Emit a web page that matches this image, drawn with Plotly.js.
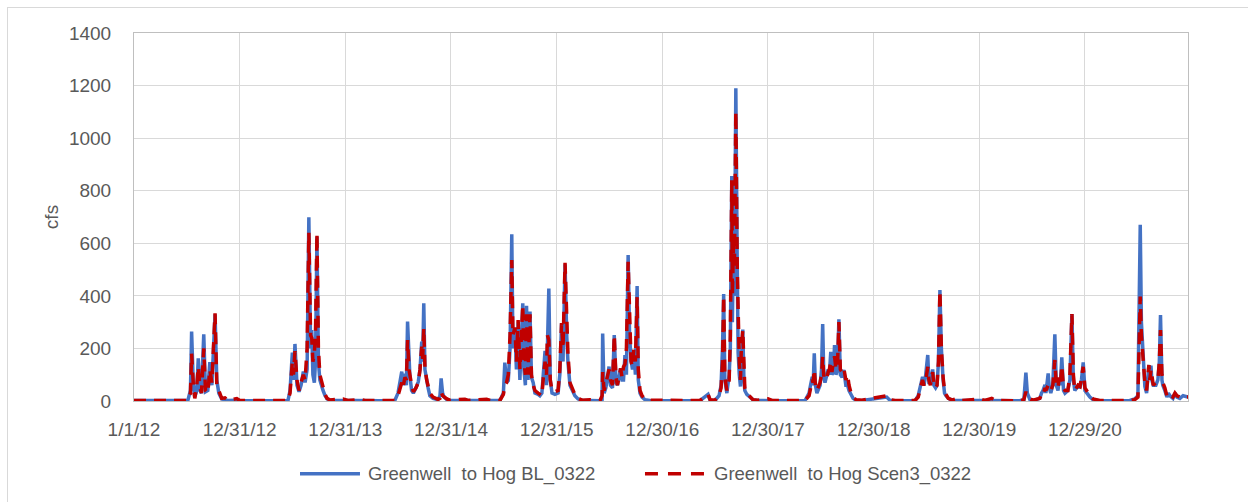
<!DOCTYPE html>
<html>
<head>
<meta charset="utf-8">
<script src="https://cdn.plot.ly/plotly-3.0.1.min.js"></script>
<style>
  html, body { margin: 0; padding: 0; background: #fff; overflow: hidden; }
  #wrap { position: relative; width: 1248px; height: 502px; }
  #chart { position: absolute; left: 0; top: 0; width: 1248px; height: 502px; }
  #frame { position: absolute; left: 7px; top: 7px; width: 1300px; height: 600px;
           border: 1px solid #d9d9d9; pointer-events: none; }
</style>
</head>
<body>
<div id="wrap"><div id="chart"></div><div id="frame"></div></div>
<script>
// ---- data ----
const dates = [
  "2012-01-01","2012-04-15","2012-07-05","2012-07-14","2012-07-18","2012-07-24","2012-07-29","2012-08-05","2012-08-10","2012-08-16","2012-08-21","2012-08-29","2012-09-04","2012-09-12","2012-09-19","2012-09-26","2012-10-07","2012-10-13","2012-10-20","2012-10-30","2012-11-10","2012-11-20","2012-12-21","2013-01-01","2013-03-11",
  "2013-06-16","2013-06-23","2013-07-01","2013-07-05","2013-07-10","2013-07-17","2013-07-24","2013-07-31","2013-08-08","2013-08-14","2013-08-21","2013-08-27","2013-09-02","2013-09-06","2013-09-10","2013-09-15","2013-09-19","2013-09-24","2013-09-29","2013-10-04","2013-10-10","2013-10-15","2013-10-22","2013-10-29","2013-11-08","2013-12-23","2014-01-09","2014-02-20","2014-03-09","2014-04-30",
  "2014-06-20","2014-07-01","2014-07-14","2014-07-18","2014-07-25","2014-07-30","2014-08-03","2014-08-08","2014-08-11","2014-08-17","2014-08-23","2014-09-01","2014-09-09","2014-09-15","2014-09-21","2014-09-24","2014-09-28","2014-10-02","2014-10-08","2014-10-13","2014-10-19","2014-10-30","2014-11-16","2014-11-23","2014-11-27","2014-12-02","2014-12-07","2014-12-17","2014-12-27","2015-02-17","2015-02-28","2015-05-03","2015-05-15",
  "2015-06-18","2015-06-30","2015-07-05","2015-07-11","2015-07-17","2015-07-23","2015-07-29","2015-08-02","2015-08-09","2015-08-14","2015-08-20","2015-08-26","2015-08-31","2015-09-05","2015-09-09","2015-09-14","2015-09-18","2015-09-23","2015-09-30","2015-10-05","2015-10-11","2015-10-17","2015-10-28","2015-11-03","2015-11-10","2015-11-15","2015-11-21","2015-11-26","2015-11-29","2015-12-04","2015-12-09","2015-12-15","2015-12-25","2016-01-05","2016-01-11","2016-01-17","2016-01-22","2016-01-29","2016-02-04","2016-02-08","2016-02-15","2016-02-22","2016-03-03","2016-03-14","2016-03-28","2016-04-24","2016-05-11",
  "2016-05-29","2016-06-05","2016-06-07","2016-06-12","2016-06-18","2016-06-24","2016-06-29","2016-07-04","2016-07-11","2016-07-17","2016-07-23","2016-07-28","2016-08-02","2016-08-08","2016-08-13","2016-08-18","2016-08-23","2016-08-28","2016-09-03","2016-09-08","2016-09-13","2016-09-18","2016-09-23","2016-09-28","2016-10-04","2016-10-08","2016-10-14","2016-10-21","2016-10-31","2016-11-17","2017-01-25",
  "2017-05-09","2017-06-06","2017-06-13","2017-06-30","2017-07-14","2017-07-21","2017-07-26","2017-07-30","2017-08-03","2017-08-10","2017-08-18","2017-08-22","2017-08-27","2017-08-29","2017-09-02","2017-09-05","2017-09-10","2017-09-15","2017-09-18","2017-09-22","2017-09-26","2017-09-29","2017-10-04","2017-10-08","2017-10-11","2017-10-18","2017-10-29","2017-11-08","2017-11-25","2017-12-30","2018-01-13","2018-02-09",
  "2018-05-07","2018-05-21","2018-05-26","2018-06-01","2018-06-04","2018-06-08","2018-06-12","2018-06-17","2018-06-28","2018-07-03","2018-07-07","2018-07-11","2018-07-15","2018-07-22","2018-07-26","2018-07-30","2018-08-04","2018-08-08","2018-08-13","2018-08-17","2018-08-22","2018-08-27","2018-09-01","2018-09-06","2018-09-12","2018-09-18","2018-09-25","2018-10-01","2018-10-06","2018-10-13","2018-10-20","2018-10-30","2018-11-20","2019-02-13","2019-02-24","2019-03-14",
  "2019-05-22","2019-06-02","2019-06-10","2019-06-17","2019-06-22","2019-06-27","2019-07-05","2019-07-09","2019-07-14","2019-07-22","2019-07-26","2019-08-01","2019-08-06","2019-08-11","2019-08-16","2019-08-21","2019-08-27","2019-09-01","2019-09-06","2019-09-14","2019-09-27","2019-10-17","2019-10-31","2020-01-01","2020-01-18","2020-02-11","2020-02-25",
  "2020-05-18","2020-06-01","2020-06-08","2020-06-13","2020-06-22","2020-07-02","2020-07-26","2020-08-01","2020-08-06","2020-08-13","2020-08-16","2020-08-24","2020-08-28","2020-09-02","2020-09-09","2020-09-16","2020-09-21","2020-09-27","2020-10-01","2020-10-05","2020-10-10","2020-10-16","2020-10-21","2020-10-31","2020-11-07","2020-11-14","2020-11-19","2020-11-24","2020-12-05","2020-12-12","2020-12-17","2020-12-23","2020-12-29","2021-01-05","2021-01-15","2021-01-26","2021-02-08","2021-02-18",
  "2021-06-02","2021-06-19","2021-06-30","2021-07-08","2021-07-12","2021-07-16","2021-07-20","2021-07-24","2021-07-30","2021-08-03","2021-08-07","2021-08-10","2021-08-14","2021-08-17","2021-08-22","2021-08-31","2021-09-07","2021-09-12","2021-09-16","2021-09-21","2021-09-24","2021-10-01","2021-10-08","2021-10-13","2021-10-19","2021-10-29","2021-11-05","2021-11-12","2021-11-22","2021-12-03","2021-12-13","2021-12-20"
];

const blCfs = [
  2,1,2,40,264,60,15,40,162,40,30,254,35,40,148,60,330,80,30,8,4,2,3,1,1,
  2,40,184,80,217,60,35,60,112,70,120,699,200,270,100,70,150,625,150,80,50,40,20,8,3,2,1,2,1,1,
  2,30,112,60,104,60,302,100,95,40,30,50,73,120,226,150,372,120,68,50,20,10,5,20,86,30,15,5,2,2,1,2,1,
  2,30,146,70,78,200,634,200,270,120,296,80,200,372,120,60,362,80,340,90,70,30,25,20,30,100,191,60,200,428,80,30,25,30,100,296,150,520,245,150,60,40,20,8,3,2,1,
  1,5,257,30,50,90,131,60,50,251,70,60,90,124,80,80,175,100,555,250,156,120,192,100,437,80,30,15,5,2,1,
  1,25,3,2,20,60,200,407,80,30,100,200,856,300,600,400,1190,500,183,100,55,150,272,80,40,25,15,5,2,3,1,1,
  2,30,60,92,60,181,60,30,60,120,293,90,70,100,120,100,187,100,110,213,100,120,311,100,90,118,60,60,40,25,10,3,2,15,3,1,
  1,20,60,92,60,90,175,70,70,120,60,50,60,150,422,200,80,30,20,10,3,3,1,2,1,3,1,
  1,5,108,30,5,1,10,30,40,61,30,105,50,30,60,254,60,40,86,60,166,40,30,40,80,331,80,40,58,50,80,147,40,30,15,5,2,1,
  2,8,20,670,300,220,100,55,30,100,137,80,135,80,60,60,80,150,327,80,60,40,15,30,20,10,30,15,10,20,15,15
];

const scen3Cfs = [
  2,2,2,30,180,60,10,60,130,50,30,200,40,30,120,70,334,60,40,10,12,3,9,2,2,
  2,30,150,100,190,80,40,70,100,80,200,640,250,240,150,180,260,638,200,100,70,50,25,10,4,8,2,6,2,2,
  2,20,70,50,90,80,232,120,90,60,35,50,70,120,207,160,278,130,80,60,30,15,6,10,35,20,15,8,3,7,2,7,2,
  2,25,60,70,100,250,536,250,280,150,308,120,250,365,150,100,330,100,330,100,60,40,30,25,20,90,150,100,250,232,80,40,35,40,120,296,200,526,280,180,70,50,25,10,3,5,2,
  2,20,110,40,70,90,120,80,60,251,90,60,90,124,90,130,140,200,530,300,150,130,200,150,395,120,40,20,8,3,2,
  2,25,5,3,20,50,150,400,90,40,80,250,840,400,600,500,1102,500,250,150,80,200,270,100,50,30,15,5,3,8,2,2,
  2,20,50,80,70,120,60,40,70,100,168,90,80,90,110,120,150,110,150,170,120,130,300,120,110,125,80,100,60,30,15,5,3,20,5,2,
  2,15,50,80,60,70,130,80,60,110,60,50,60,150,420,200,90,40,25,10,4,10,2,8,2,10,2,
  1,5,35,20,8,3,10,25,20,50,40,60,50,40,60,156,60,50,90,60,135,50,40,40,100,331,100,40,60,55,90,130,50,35,20,8,3,2,
  2,5,15,397,250,200,120,70,40,80,137,80,120,100,60,70,80,150,270,100,70,50,20,30,25,15,30,20,15,20,15,15
];

const seriesNames = ["Greenwell\u00a0 to Hog BL_0322", "Greenwell\u00a0 to Hog Scen3_0322"];
const tickDates = ["2012-01-01","2012-12-31","2013-12-31","2014-12-31","2015-12-31","2016-12-30","2017-12-30","2018-12-30","2019-12-30","2020-12-29"];
const tickLabels = ["1/1/12","12/31/12","12/31/13","12/31/14","12/31/15","12/30/16","12/30/17","12/30/18","12/30/19","12/29/20"];
const xRange = ["2012-01-01","2021-12-20"];
const yRange = [0, 1400];
const yStep = 200;
const yTitle = "cfs";

// ---- style ----
const BLUE = "#4472c4", RED = "#c00000", TXT = "#595959", GRID = "#d9d9d9";
const FONT = "Liberation Sans, Arial, sans-serif";

const traces = [
  { type: "scatter", mode: "lines", x: dates, y: blCfs, name: seriesNames[0],
    line: { color: BLUE, width: 3.5 }, showlegend: false },
  { type: "scatter", mode: "lines", x: dates, y: scen3Cfs, name: seriesNames[1],
    line: { color: RED, width: 3.5, dash: "12px,8px" }, showlegend: false }
];

// legend drawn in paper coordinates below the plot
const legY = -0.198;
const layout = {
  width: 1248, height: 502,
  margin: { l: 134, r: 60, t: 33, b: 101 },
  paper_bgcolor: "#ffffff", plot_bgcolor: "#ffffff",
  font: { family: FONT, size: 19, color: TXT },
  xaxis: {
    type: "date", range: xRange,
    tickmode: "array", tickvals: tickDates, ticktext: tickLabels,
    showgrid: true, gridcolor: GRID, gridwidth: 1,
    showline: true, mirror: true, linecolor: "#bfbfbf", linewidth: 1,
    ticks: "", zeroline: false, ticklabelstandoff: 11,
    tickfont: { family: FONT, size: 19, color: TXT }
  },
  yaxis: {
    range: yRange, tick0: 0, dtick: yStep,
    showgrid: true, gridcolor: GRID, gridwidth: 1,
    showline: true, mirror: true, linecolor: "#bfbfbf", linewidth: 1,
    ticks: "", zeroline: false, ticklabelstandoff: 18,
    tickfont: { family: FONT, size: 19, color: TXT },
    title: { text: yTitle, font: { family: FONT, size: 19, color: TXT }, standoff: 5 }
  },
  shapes: [
    { type: "line", xref: "paper", yref: "paper", x0: 0.1575, x1: 0.2144, y0: legY, y1: legY,
      line: { color: BLUE, width: 3.5 } },
    { type: "line", xref: "paper", yref: "paper", x0: 0.4848, x1: 0.5417, y0: legY, y1: legY,
      line: { color: RED, width: 3.5, dash: "13px,10px" } }
  ],
  annotations: [
    { xref: "paper", yref: "paper", x: 0.2201, y: legY, xanchor: "left", yanchor: "middle",
      text: seriesNames[0], showarrow: false, font: { family: FONT, size: 18.5, color: TXT } },
    { xref: "paper", yref: "paper", x: 0.5484, y: legY, xanchor: "left", yanchor: "middle",
      text: seriesNames[1], showarrow: false, font: { family: FONT, size: 18.5, color: TXT } }
  ],
  showlegend: false
};

Plotly.newPlot("chart", traces, layout, { displayModeBar: false, staticPlot: true });
</script>
</body>
</html>
